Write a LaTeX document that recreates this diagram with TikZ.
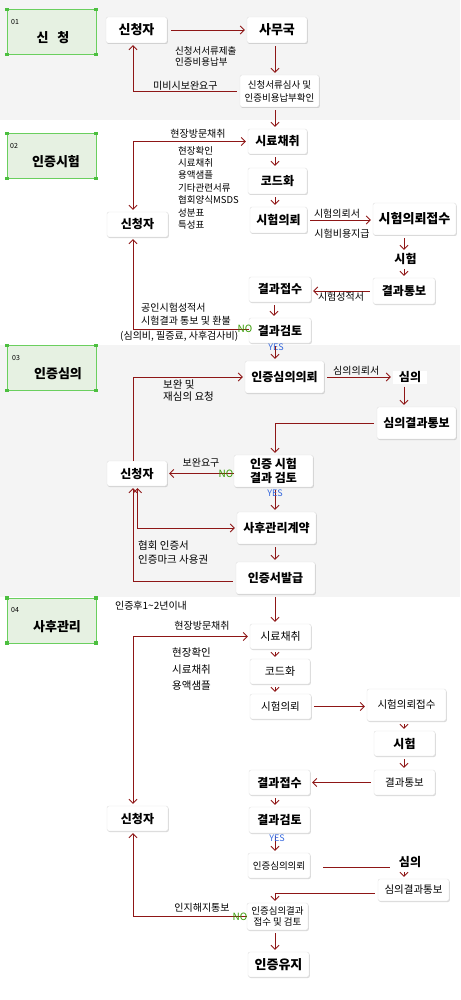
\documentclass[tikz,border=0pt]{standalone}
\usepackage{fontspec}
\setmainfont{Noto Sans CJK KR}
\usetikzlibrary{arrows.meta,shadows,calc}
\definecolor{arrc}{HTML}{8E1616}
\definecolor{bggray}{HTML}{F4F4F4}
\definecolor{secfill}{HTML}{E6F1E2}
\definecolor{secline}{HTML}{6ACF5E}
\definecolor{secmark}{HTML}{4CBF3F}
\definecolor{nogreen}{HTML}{339900}
\definecolor{yesblue}{HTML}{3366DD}
\definecolor{boxline}{HTML}{E0E0E0}
\tikzset{
 bx/.style={draw=boxline, fill=white, rounded corners=2pt, drop shadow={shadow xshift=0.8pt,shadow yshift=-1pt,opacity=0.3}, inner sep=0pt, align=center, font=\bfseries\fontsize{12}{14}\selectfont},
 plainbx/.style={fill=white, inner sep=0pt, align=center, font=\bfseries\fontsize{12}{14}\selectfont},
 arr/.style={draw=arrc, line width=0.9pt, -{Straight Barb[length=4pt,width=8pt]}, shorten <=3pt, shorten >=2pt},
 darr/.style={draw=arrc, line width=0.9pt, {Straight Barb[length=4pt,width=8pt]}-{Straight Barb[length=4pt,width=8pt]}, shorten <=2pt, shorten >=2pt},
 pline/.style={draw=arrc, line width=0.9pt},
 lbl/.style={inner sep=0pt, font=\fontsize{10}{12.4}\selectfont, align=left},
 nolbl/.style={inner sep=0pt, font=\fontsize{10}{12}\selectfont, text=nogreen},
 yeslbl/.style={inner sep=0pt, font=\fontsize{9}{11}\selectfont, text=yesblue},
 secbox/.style={draw=secline, fill=secfill, line width=0.8pt, minimum width=89pt, minimum height=45pt, inner sep=0pt},
 secnum/.style={inner sep=0pt, font=\fontsize{7}{8}\selectfont},
 sectitle/.style={inner sep=0pt, font=\bfseries\fontsize{13}{15}\selectfont},
}
\begin{document}
\begin{tikzpicture}[x=1pt,y=-1pt]
\useasboundingbox (0,0) rectangle (460,1000);
\fill[bggray] (0,0) rectangle (460,120);
\fill[bggray] (0,345) rectangle (460,597);
\coordinate (spine) at (275,0);
\coordinate (rspine) at (404,0);
\coordinate (lspine) at (133,0);
\coordinate (lspineb) at (137.5,0);

% section boxes
\foreach \nm/\yc in {s01/32, s02/156, s03/368, s04/620.5}{
  \node[secbox] (\nm) at (51.5,\yc) {};
  \foreach \cx/\cy in {-44.5/-22.5, 44.5/-22.5, -44.5/22.5, 44.5/22.5}
    \fill[secmark] ($(\nm)+(\cx,\cy)+(-1.8,-1.8)$) rectangle ++(3.6,3.6);
}
\node[secnum, anchor=west] (n01) at (11,22) {01};
\node[sectitle] (t01) at (53,38) {신\hspace{9pt}청};
\node[secnum, anchor=west] (n02) at (10,146) {02};
\node[sectitle] (t02) at (56,162) {인증시험};
\node[secnum, anchor=west] (n03) at (12,358) {03};
\node[sectitle] (t03) at (58,374) {인증심의};
\node[secnum, anchor=west] (n04) at (11,610) {04};
\node[sectitle] (t04) at (57,627) {사후관리};

% ---------- section 01
\node[bx, minimum width=61pt, minimum height=26pt, font=\bfseries\fontsize{13}{15}\selectfont] (a1) at (136.5,30) {신청자};
\node[bx, minimum width=60pt, minimum height=26pt, font=\bfseries\fontsize{13}{15}\selectfont] (b1) at (277,30) {사무국};
\node[bx, minimum width=79pt, minimum height=32pt, font=\fontsize{9.5}{13}\selectfont] (c1) at (279.5,91) {신청서류심사 및\\인증비용납부확인};
\draw[arr, shorten <=4pt] (a1.east) -- (b1.west);
\draw[arr] (b1.south -| spine) -- (c1.north -| spine);
\draw[arr] (c1.west) -| (a1.south -| lspine);
\node[lbl, anchor=west, font=\fontsize{9.5}{11.5}\selectfont] (l1) at (175,56.5) {신청서서류제출\\인증비용납부};
\node[lbl, anchor=west] (l2) at (153,86) {미비시보완요구};

% ---------- section 02
\node[bx, minimum width=59pt, minimum height=25pt] (a2) at (277.5,141.5) {시료채취};
\node[bx, minimum width=59pt, minimum height=26pt] (b2) at (277.5,181) {코드화};
\node[bx, minimum width=57pt, minimum height=26pt] (c2) at (278.5,220) {시험의뢰};
\node[bx, minimum width=83pt, minimum height=32pt, font=\bfseries\fontsize{13}{15}\selectfont] (d2) at (414.5,219) {시험의뢰접수};
\node[plainbx, minimum width=35pt, minimum height=14pt] (e2) at (405.5,259) {시험};
\node[bx, minimum width=62pt, minimum height=26pt] (f2) at (404,291) {결과통보};
\node[bx, minimum width=62pt, minimum height=25pt] (g2) at (280,289.5) {결과접수};
\node[bx, minimum width=62pt, minimum height=25pt] (h2) at (280,330.5) {결과검토};
\node[bx, minimum width=61pt, minimum height=25pt] (s2) at (137.5,224.5) {신청자};
\draw[arr] (c1.south -| spine) -- (a2.north -| spine);
\draw[darr] (s2.north -| lspine) |- (a2.west);
\draw[arr] (a2.south -| spine) -- (b2.north -| spine);
\draw[arr] (b2.south -| spine) -- (c2.north -| spine);
\draw[arr] (c2.east) -- (c2.east -| d2.west);
\draw[arr] (d2.south -| rspine) -- (e2.north -| rspine);
\draw[arr] (e2.south -| rspine) -- (f2.north -| rspine);
\draw[arr] (f2.west) -- (f2.west -| g2.east);
\draw[arr] ([xshift=-6pt]g2.south) -- ([xshift=-6pt]h2.north);
\draw[arr, shorten <=0pt] ([yshift=1.5pt]h2.west) -| (s2.south -| lspine);
\node[lbl] (l3) at (198,134) {현장방문채취};
\node[lbl, anchor=north west, font=\fontsize{9.5}{12.4}\selectfont] (l4) at (178,146) {현장확인\\시료채취\\용액샘플\\기타관련서류\\협회양식MSDS\\성분표\\특성표};
\node[lbl] (l5) at (337,213.5) {시험의뢰서};
\node[lbl] (l6) at (342,233.5) {시험비용지급};
\node[lbl] (l7) at (341,297) {시험성적서};
\node[lbl, anchor=west] (l8) at (141,308) {공인시험성적서};
\node[lbl, anchor=west] (l9) at (141,321) {시험결과 통보 및 환불};
\node[lbl, anchor=west] (l10) at (120,336) {(심의비, 필증료, 사후검사비)};
\node[nolbl] (no1) at (245,329) {NO};
\node[yeslbl] (yes1) at (276,347) {YES};

% ---------- section 03
\node[bx, minimum width=79pt, minimum height=32pt] (a3) at (284.5,377) {인증심의의뢰};
\node[plainbx, minimum width=34pt, minimum height=13pt] (b3) at (410,377) {심의};
\node[bx, minimum width=79pt, minimum height=32pt] (c3) at (416.5,423) {심의결과통보};
\node[bx, minimum width=79pt, minimum height=32pt, font=\bfseries\fontsize{12}{14}\selectfont] (d3) at (273.5,471) {인증 시험\\결과 검토};
\node[bx, minimum width=60pt, minimum height=25pt] (s3) at (137,473.5) {신청자};
\node[bx, minimum width=79pt, minimum height=32pt] (e3) at (276.5,528) {사후관리계약};
\node[bx, minimum width=79pt, minimum height=32pt] (f3) at (275.5,578) {인증서발급};
\draw[arr] (h2.south -| spine) -- (a3.north -| spine);
\draw[arr] (a3.east) -- (a3.east -| b3.west);
\draw[arr] (b3.south -| rspine) -- (c3.north -| rspine);
\draw[arr] (c3.west) -| (d3.north -| spine);
\draw[arr, shorten <=0pt] (s3.north -| lspine) |- (a3.west);
\draw[arr, shorten <=0pt] (d3.west |- s3.east) -- (s3.east);
\draw[arr] (d3.south -| spine) -- (e3.north -| spine);
\draw[arr] (e3.south -| spine) -- (f3.north -| spine);
\draw[darr] (s3.south -| lspineb) |- (e3.west);
\draw[arr] ([yshift=-3pt]f3.west) -| (s3.south -| lspine);
\node[lbl, anchor=west, font=\fontsize{10}{12}\selectfont] (l11) at (333,371) {심의의뢰서};
\node[lbl, anchor=north west, font=\fontsize{10.5}{12}\selectfont] (l12) at (163,380) {보완 및\\재심의 요청};
\node[lbl] (l13) at (201,463) {보완요구};
\node[nolbl] (no2) at (226,474) {NO};
\node[yeslbl] (yes2) at (275,493) {YES};
\node[lbl, anchor=north west, font=\fontsize{10.5}{14}\selectfont] (l14) at (138,541) {협회 인증서\\인증마크 사용권};

% ---------- section 04
\node[bx, minimum width=61pt, minimum height=25pt, font=\fontsize{11}{13}\selectfont] (a4) at (280.5,636.5) {시료채취};
\node[bx, minimum width=60pt, minimum height=25pt, font=\fontsize{11}{13}\selectfont] (b4) at (280,671.5) {코드화};
\node[bx, minimum width=61pt, minimum height=25pt, font=\fontsize{10.5}{13}\selectfont] (c4) at (280.5,706.5) {시험의뢰};
\node[bx, minimum width=79pt, minimum height=32pt, font=\fontsize{10.5}{13}\selectfont] (d4) at (406.5,705) {시험의뢰접수};
\node[bx, minimum width=61pt, minimum height=25pt] (e4) at (404.5,743.5) {시험};
\node[bx, minimum width=61pt, minimum height=25pt, font=\fontsize{10.5}{13}\selectfont] (f4) at (404.5,782.5) {결과통보};
\node[bx, minimum width=61pt, minimum height=25pt] (g4) at (279.5,782.5) {결과접수};
\node[bx, minimum width=61pt, minimum height=26pt] (h4) at (279.5,820) {결과검토};
\node[bx, minimum width=61pt, minimum height=25pt] (s4) at (137.5,818.5) {신청자};
\node[bx, minimum width=62pt, minimum height=25pt, font=\fontsize{9.5}{12}\selectfont] (i4) at (279,865.5) {인증심의의뢰};
\node[plainbx, minimum width=34pt, minimum height=14pt] (j4) at (410,862) {심의};
\node[bx, minimum width=71pt, minimum height=22pt, font=\fontsize{10.5}{13}\selectfont] (k4) at (413.5,890) {심의결과통보};
\node[bx, minimum width=61pt, minimum height=27pt, font=\fontsize{9.5}{11.5}\selectfont] (l4n) at (277.5,916.5) {인증심의결과\\접수 및 검토};
\node[bx, minimum width=61pt, minimum height=25pt, font=\bfseries\fontsize{13}{15}\selectfont] (m4) at (278.5,964.5) {인증유지};
\draw[arr] (f3.south -| spine) -- (a4.north -| spine);
\draw[darr] (s4.north -| lspine) |- (a4.west);
\draw[arr] (a4.south -| spine) -- (b4.north -| spine);
\draw[arr] (b4.south -| spine) -- (c4.north -| spine);
\draw[arr] (c4.east) -- (c4.east -| d4.west);
\draw[arr] (d4.south -| rspine) -- (e4.north -| rspine);
\draw[arr] (e4.south -| rspine) -- (f4.north -| rspine);
\draw[arr] (f4.west) -- (f4.west -| g4.east);
\draw[arr] (g4.south -| spine) -- (h4.north -| spine);
\draw[arr] (h4.south -| spine) -- (i4.north -| spine);
\draw[pline, shorten <=13pt, shorten >=3pt] ([yshift=-2pt]i4.east) -- ([yshift=-2pt]i4.east -| j4.west);
\draw[arr] (j4.south -| rspine) -- (k4.north -| rspine);
\draw[arr] ([yshift=-3pt]k4.west) -| (l4n.north -| spine);
\draw[arr, shorten <=0pt] (l4n.west) -| (s4.south -| lspine);
\draw[arr] (l4n.south -| spine) -- (m4.north -| spine);
\node[lbl] (l15) at (151,606) {인증후1\textasciitilde2년이내};
\node[lbl] (l16) at (202,626) {현장방문채취};
\node[lbl, anchor=north west, font=\fontsize{10.5}{16.5}\selectfont] (l17) at (172,648) {현장확인\\시료채취\\용액샘플};
\node[lbl] (l18) at (202,908) {인지해지통보};
\node[nolbl] (no3) at (240,917) {NO};
\node[yeslbl] (yes3) at (277,838) {YES};
\end{tikzpicture}
\end{document}
